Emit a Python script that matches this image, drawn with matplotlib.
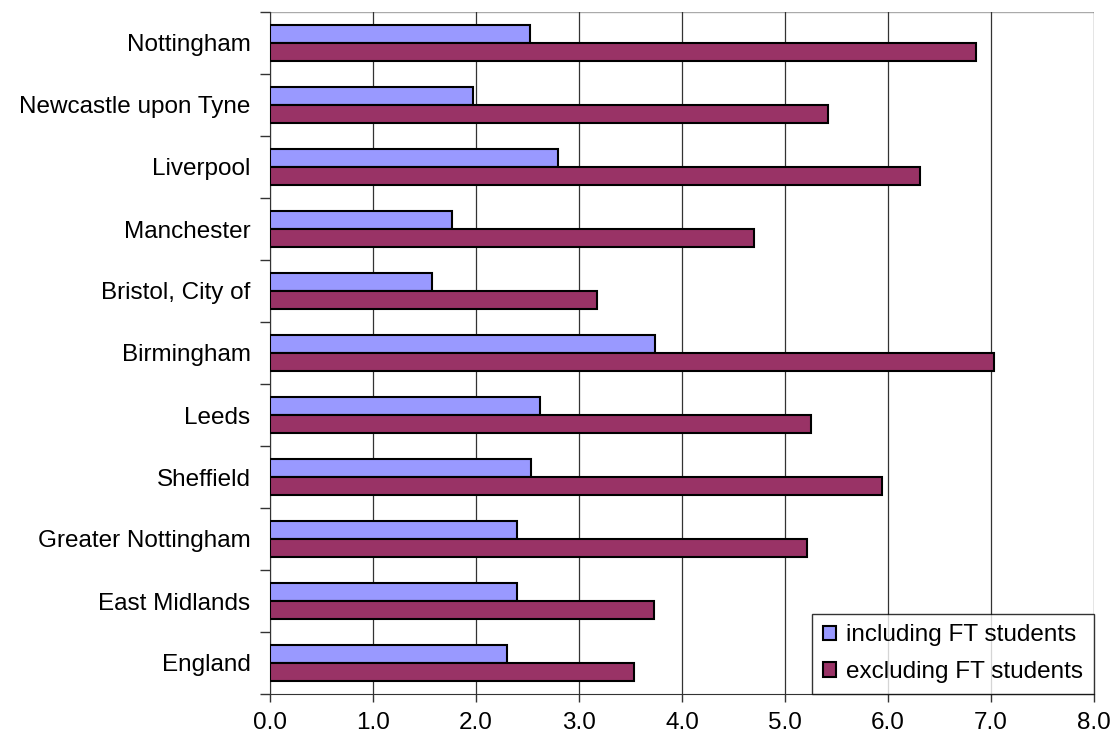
import matplotlib.pyplot as plt
import numpy as np

plt.rcParams['font.family'] = ['Liberation Sans', 'DejaVu Sans']

areas = ['Nottingham', 'Newcastle upon Tyne', 'Liverpool', 'Manchester',
         'Bristol, City of', 'Birmingham', 'Leeds', 'Sheffield',
         'Greater Nottingham', 'East Midlands', 'England']
incl_ft = [2.52, 1.97, 2.80, 1.77, 1.57, 3.74, 2.62, 2.53, 2.40, 2.40, 2.30]
excl_ft = [6.85, 5.42, 6.31, 4.70, 3.17, 7.03, 5.25, 5.94, 5.21, 3.73, 3.53]
xticks = [0, 1, 2, 3, 4, 5, 6, 7, 8]

fig = plt.figure(figsize=(11.15, 7.44), dpi=100)
ax = fig.add_axes([270 / 1115, 50 / 744, 824 / 1115, 682 / 744])

n = len(areas)
# first category at the top
pos = np.arange(n)[::-1]
h = 0.29

ax.barh(pos + h / 2, incl_ft, height=h, color='#9999FF', edgecolor='black',
        linewidth=1.5, label='including FT students', zorder=3)
ax.barh(pos - h / 2, excl_ft, height=h, color='#993366', edgecolor='black',
        linewidth=1.5, label='excluding FT students', zorder=3)

ax.set_xlim(0, 8)
ax.set_ylim(-0.5, n - 0.5)
ax.set_xticks(xticks)
ax.set_xticklabels([f'{v:.1f}' for v in xticks], fontsize=17.5)
ax.set_yticks(pos)
ax.set_yticklabels(areas, fontsize=17.5)
ax.tick_params(axis='y', length=0, pad=14)
# ticks between categories
ax.set_yticks(np.arange(n + 1) - 0.5, minor=True)
ax.tick_params(axis='y', which='minor', length=7, width=1, color='#333333')
ax.tick_params(axis='x', length=6, width=1, color='#333333', pad=7)

ax.grid(axis='x', color='#333333', linewidth=0.9, zorder=0)
for side in ['top', 'right']:
    ax.spines[side].set_visible(False)
ax.spines['left'].set_color('#333333')
ax.spines['bottom'].set_color('#333333')
ax.axhline(n - 0.5, color='#aaaaaa', linewidth=1, zorder=1)

leg = ax.legend(loc='lower right', bbox_to_anchor=(1, 0), borderaxespad=0,
                fancybox=False, edgecolor='black', fontsize=17.5,
                handlelength=0.55, handleheight=0.55, handletextpad=0.4,
                labelspacing=0.6, borderpad=0.45)
leg.get_frame().set_linewidth(1)
leg.set_zorder(5)

plt.savefig('out.png', dpi=100)
